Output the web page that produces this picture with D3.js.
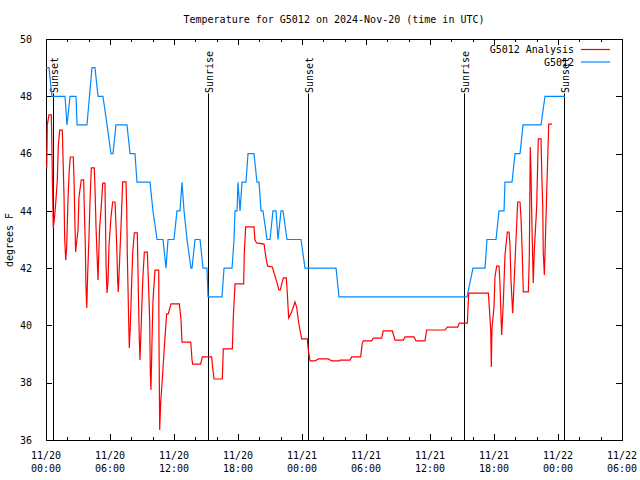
<!DOCTYPE html>
<html><head><meta charset="utf-8">
<script src="https://cdn.jsdelivr.net/npm/d3@7"></script>
<style>
body{margin:0;background:#fff;}
text{font-family:"DejaVu Sans Mono",monospace;font-size:10px;fill:#000;}
</style></head>
<body><svg id="c" width="640" height="480"></svg>
<script>
// ---- data (hours since 2024-11-20 00:00 UTC, degrees F) ----
const analysisHours = [0.07,0.12,0.28,0.50,0.59,0.68,0.78,0.91,1.06,1.15,1.28,1.53,1.69,1.75,1.85,1.94,2.06,2.18,2.28,2.56,2.63,2.72,2.78,2.84,3.00,3.09,3.31,3.53,3.59,3.68,3.75,3.82,3.91,4.03,4.13,4.25,4.53,4.59,4.69,4.81,4.88,4.94,5.03,5.18,5.32,5.53,5.56,5.63,5.72,5.81,5.91,6.09,6.25,6.47,6.53,6.63,6.72,6.78,6.87,7.03,7.19,7.50,7.57,7.62,7.75,7.81,7.90,8.03,8.13,8.28,8.56,8.60,8.69,8.75,8.81,8.91,9.07,9.22,9.50,9.59,9.72,9.78,9.84,9.94,10.03,10.22,10.57,10.59,10.66,10.75,10.88,11.00,11.16,11.31,11.47,11.63,11.72,12.50,12.66,12.75,13.57,13.69,13.75,14.50,14.65,15.53,15.63,15.75,16.53,16.62,17.47,17.56,17.72,18.53,18.59,18.72,19.50,19.59,19.75,20.44,20.63,20.78,21.22,21.38,21.63,21.84,21.97,22.10,22.25,22.53,22.62,22.75,23.03,23.34,23.50,23.65,23.81,23.97,24.50,24.59,24.75,25.22,25.53,26.47,26.78,27.50,27.56,28.50,28.66,29.50,29.65,29.75,30.53,30.68,31.47,31.62,32.47,32.72,33.50,33.66,34.50,34.69,35.53,35.69,37.41,37.62,38.60,38.75,39.50,39.63,41.47,41.56,41.69,41.75,41.81,42.00,42.09,42.25,42.47,42.56,42.66,42.72,42.87,43.03,43.25,43.41,43.50,43.59,43.75,43.81,43.97,44.22,44.44,44.53,44.63,44.75,45.22,45.31,45.40,45.47,45.56,45.68,45.78,46.00,46.15,46.41,46.47,46.57,46.62,46.72,46.81,46.94,47.13,47.44];
const analysisTemps = [45.50,47.00,47.35,47.35,45.36,43.40,43.68,44.27,45.08,46.23,46.82,46.82,44.48,43.05,42.28,42.74,44.38,45.43,45.88,45.88,45.08,43.40,42.56,42.81,43.33,44.48,45.08,45.08,44.13,42.88,41.34,40.61,41.83,43.09,44.38,45.50,45.50,44.83,43.44,42.21,41.59,42.39,43.44,44.13,44.97,44.97,44.13,42.11,41.13,41.52,42.81,43.78,44.31,44.31,43.78,42.81,41.52,41.17,42.00,43.44,45.01,45.01,44.03,42.53,40.19,39.21,39.94,41.48,42.53,43.23,43.23,42.39,40.54,39.49,38.79,39.84,41.59,42.56,42.56,41.66,40.19,38.34,37.75,39.49,40.89,41.93,41.93,39.60,36.35,37.29,37.99,38.69,39.60,40.40,40.40,40.64,40.75,40.75,40.19,39.42,39.42,38.79,38.65,38.65,38.90,38.90,38.51,38.13,38.13,39.18,39.18,40.29,41.45,41.45,42.53,43.44,43.44,42.98,42.88,42.84,42.35,42.07,42.04,41.83,41.52,41.24,41.24,41.45,41.66,41.66,41.13,40.26,40.47,40.82,40.64,40.19,39.84,39.53,39.53,39.14,38.76,38.76,38.83,38.83,38.76,38.76,38.79,38.79,38.90,38.90,39.39,39.46,39.46,39.56,39.56,39.81,39.81,39.49,39.49,39.60,39.60,39.46,39.46,39.84,39.84,39.94,39.94,40.08,40.08,41.13,41.13,40.64,39.84,38.55,39.91,40.64,41.69,42.07,42.07,41.48,40.29,39.67,40.78,42.46,43.26,43.26,42.81,41.59,40.43,40.89,42.21,44.31,44.31,43.78,42.74,41.17,41.17,42.39,46.23,45.36,43.44,41.48,42.63,44.13,46.51,46.51,45.43,44.13,42.53,41.76,42.88,44.62,47.03,47.03];
const obsHours = [0,0.28,0.56,1.78,1.97,2.25,2.81,2.91,3.84,4.31,4.59,4.88,5.34,5.72,6.09,6.28,6.56,7.59,7.88,8.34,8.53,9.75,10.03,10.41,10.97,11.25,11.44,12.00,12.28,12.56,12.75,12.94,13.22,13.59,13.69,13.97,14.44,14.72,15.09,15.19,16.50,16.69,17.44,17.63,17.72,17.91,18.00,18.19,18.38,18.75,18.94,19.50,19.78,19.97,20.16,20.34,20.72,21.00,21.28,21.56,21.75,22.03,22.22,22.59,23.91,24.28,27.19,27.47,39.47,40.03,41.16,41.34,42.19,42.47,42.94,43.03,43.69,43.97,44.44,44.72,46.41,46.78,48.66];
const obsTemps = [49,49,48,48,47,48,48,47,47,49,49,48,48,47,46,46,47,47,46,46,45,45,44,43,43,42,43,43,44,44,45,44,43,42,42,43,43,42,42,41,41,42,42,43,44,44,45,44,45,45,46,46,45,45,44,44,43,43,44,44,43,44,44,43,43,42,42,41,41,42,42,43,43,44,44,45,45,46,46,47,47,48,48];
const sunEventHours = [0.66,15.22,24.59,39.22,48.59];
const sunEventLabels = ["Sunset","Sunrise","Sunset","Sunrise","Sunset"];
const xTickHours = [0,6,12,18,24,30,36,42,48,54];
const xTickDates = ["11/20","11/20","11/20","11/20","11/21","11/21","11/21","11/21","11/22","11/22"];
const xTickTimes = ["00:00","06:00","12:00","18:00","00:00","06:00","12:00","18:00","00:00","06:00"];
const yTicks = [36,38,40,42,44,46,48,50];
const seriesNames = ["G5012 Analysis","G5012"];
const seriesColors = ["#ff0000","#0088ff"];

// ---- chart ----
const L=46,R=622,T=39,B=440;
const svg=d3.select("#c");
const x=d3.scaleLinear().domain([0,54]).range([L,R]);
const y=d3.scaleLinear().domain([36,50]).range([B,T]);

svg.append("text").attr("x",334).attr("y",23).attr("text-anchor","middle")
  .text("Temperature for G5012 on 2024-Nov-20 (time in UTC)");

const minorHours=d3.range(0,55,2).filter(h=>h%6!==0);
function axisStyle(g){g.select(".domain").remove();g.selectAll("line").attr("stroke","#000").attr("shape-rendering","crispEdges");}
// bottom / top ticks
svg.append("g").attr("transform",`translate(0,${B})`).call(d3.axisBottom(x).tickValues(xTickHours).tickSize(-6).tickFormat("")).call(axisStyle);
svg.append("g").attr("transform",`translate(0,${B})`).call(d3.axisBottom(x).tickValues(minorHours).tickSize(-3).tickFormat("")).call(axisStyle);
svg.append("g").attr("transform",`translate(0,${T})`).call(d3.axisTop(x).tickValues(xTickHours).tickSize(-6).tickFormat("")).call(axisStyle);
svg.append("g").attr("transform",`translate(0,${T})`).call(d3.axisTop(x).tickValues(minorHours).tickSize(-3).tickFormat("")).call(axisStyle);
// left / right
svg.append("g").attr("transform",`translate(${L},0)`).call(d3.axisLeft(y).tickValues(yTicks).tickSize(-6).tickPadding(14)).call(axisStyle)
  .selectAll("text").attr("font-family","DejaVu Sans Mono").attr("font-size",10).attr("fill","#000");
svg.append("g").attr("transform",`translate(${R},0)`).call(d3.axisRight(y).tickValues(yTicks).tickSize(-6).tickFormat("")).call(axisStyle);

// x labels two lines
const xl=svg.append("g");
xTickHours.forEach((h,i)=>{
  xl.append("text").attr("x",x(h)).attr("y",459).attr("text-anchor","middle").text(xTickDates[i]);
  xl.append("text").attr("x",x(h)).attr("y",472).attr("text-anchor","middle").text(xTickTimes[i]);
});
svg.append("text").attr("transform","translate(13,240) rotate(-90)").attr("text-anchor","middle").text("degrees F");

// frame
svg.append("rect").attr("x",L).attr("y",T).attr("width",R-L).attr("height",B-T)
  .attr("fill","none").attr("stroke","#000").attr("shape-rendering","crispEdges");

// sun event lines
sunEventHours.forEach((h,i)=>{
  const px=Math.round(x(h))+0.5;
  svg.append("line").attr("x1",px).attr("x2",px).attr("y1",y(48.1)).attr("y2",B).attr("stroke","#000");
  svg.append("text").attr("transform",`translate(${px+4},93) rotate(-90)`).attr("text-anchor","start").text(sunEventLabels[i]);
});

const line=d3.line().x(d=>x(d[0])).y(d=>y(d[1]));
svg.append("path").datum(obsHours.map((h,i)=>[h,obsTemps[i]])).attr("d",line)
  .attr("fill","none").attr("stroke",seriesColors[1]).attr("stroke-width",1.2);
svg.append("path").datum(analysisHours.map((h,i)=>[h,analysisTemps[i]])).attr("d",line)
  .attr("fill","none").attr("stroke",seriesColors[0]).attr("stroke-width",1.2);

// legend
seriesNames.forEach((n,i)=>{
  const ly=49.5+i*12.5;
  svg.append("text").attr("x",574).attr("y",ly+3.5).attr("text-anchor","end").text(n);
  svg.append("line").attr("x1",581).attr("x2",610).attr("y1",ly).attr("y2",ly).attr("stroke",seriesColors[i]).attr("stroke-width",1.2);
});
</script></body></html>
